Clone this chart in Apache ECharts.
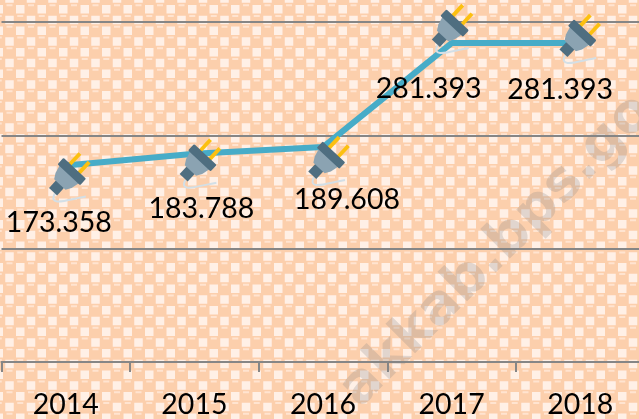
<!DOCTYPE html>
<html>
<head>
<meta charset="utf-8">
<style>html,body{margin:0;padding:0}#chart{width:639px;height:419px}</style>
<script src="https://cdn.jsdelivr.net/npm/echarts@6/dist/echarts.min.js"></script>
</head>
<body>
<div id="chart"></div>
<script>
const years = ['2014', '2015', '2016', '2017', '2018'];
const values = [173.358, 183.788, 189.608, 281.393, 281.393];
const valueLabels = ['173.358', '183.788', '189.608', '281.393', '281.393'];

// label and plug icon are placed by hand per point in the original
const labelOffsets = [[-7, 57], [7, 55], [24, 53], [-23, 46], [-20, 47]];
const plugOffsets = [[6, 6], [8, 4], [8, 8], [3, -20], [2, -10]];

// background tile: balls and light squares in a checker
function makeTile() {
  const c = document.createElement('canvas');
  c.width = 43;
  c.height = 43;
  const g = c.getContext('2d');
  g.fillStyle = '#fdd8be';
  g.fillRect(0, 0, 43, 43);
  const cell = 10.75;
  for (let i = -2; i < 6; i++) {
    for (let j = -2; j < 6; j++) {
      if ((i + j) % 2 !== 0) continue;
      const x = 9.5 + i * cell, y = 9.25 + j * cell;
      g.fillStyle = '#fccfac';
      g.beginPath();
      g.arc(x, y, 8.5, 0, Math.PI * 2);
      g.fill();
      g.fillStyle = '#ffe4d0';
      g.fillRect(x - 3, y - 5, 6, 2);
    }
  }
  for (let i = -2; i < 6; i++) {
    for (let j = -2; j < 6; j++) {
      if ((i + j) % 2 === 0) continue;
      const x = 9.5 + i * cell, y = 9.25 + j * cell;
      g.fillStyle = '#fff0e6';
      g.fillRect(x - 4.25, y - 4.25, 8.5, 8.5);
    }
  }
  return c;
}

function plugItem(params, api) {
  const pt = api.coord([api.value(0), api.value(1)]);
  const off = plugOffsets[params.dataIndex];
  const dark = '#4f6e80';
  const yellow = '#fcc010';
  return {
    type: 'group',
    x: pt[0] + off[0],
    y: pt[1] + off[1],
    children: [
      {
        type: 'bezierCurve',
        shape: { x1: -17, y1: 22, cpx1: -24, cpy1: 36, cpx2: -4, cpy2: 28, x2: 14, y2: 25 },
        style: { fill: 'none', stroke: '#d3dfe6', lineWidth: 2 }
      },
      {
        type: 'group',
        rotation: -0.75,
        scaleX: 1.1,
        scaleY: 1.1,
        children: [
          { type: 'rect', shape: { x: -7.5, y: -17, width: 3.5, height: 14 }, style: { fill: yellow } },
          { type: 'rect', shape: { x: 4, y: -17, width: 3.5, height: 14 }, style: { fill: yellow } },
          { type: 'rect', shape: { x: -5, y: 15, width: 10, height: 10 }, style: { fill: dark } },
          {
            type: 'polygon',
            shape: { points: [[-12, 3], [12, 3], [10, 11], [7, 16], [-7, 16], [-10, 11]] },
            style: { fill: '#8ba3b2' }
          },
          { type: 'rect', shape: { x: -14, y: -4, width: 28, height: 8, r: 1 }, style: { fill: dark } }
        ]
      }
    ]
  };
}

const chart = echarts.init(document.getElementById('chart'));
chart.setOption({
  animation: false,
  backgroundColor: { image: makeTile(), repeat: 'repeat' },
  textStyle: { fontFamily: 'Lato' },
  grid: { left: 1.5, top: 22, width: 643, height: 340, outerBoundsMode: 'none' },
  xAxis: {
    type: 'category',
    data: years,
    boundaryGap: true,
    axisLine: { lineStyle: { color: '#868686', width: 2 } },
    axisTick: { show: true, length: 10, lineStyle: { color: '#868686', width: 2 } },
    axisLabel: { color: '#000', fontSize: 28.5, fontFamily: 'Lato', margin: 28 }
  },
  yAxis: {
    type: 'value',
    min: 0,
    max: 300,
    interval: 100,
    axisLine: { show: false },
    axisTick: { show: false },
    axisLabel: { show: false },
    splitLine: { lineStyle: { color: '#868686', width: 2 } }
  },
  graphic: [{
    type: 'text',
    z: 100,
    x: 369,
    y: 418,
    rotation: Math.PI / 4,
    style: {
      text: 'akkab.bps.go.id',
      font: 'bold 55px "DejaVu Sans"',
      fill: 'rgba(130,130,130,0.24)',
      textVerticalAlign: 'bottom'
    }
  }],
  series: [
    {
      type: 'line',
      data: values,
      z: 3,
      symbol: 'circle',
      symbolSize: 1,
      lineStyle: { color: '#47acc8', width: 6, cap: 'round' },
      itemStyle: { color: '#47acc8' },
      label: {
        show: true,
        position: 'inside',
        color: '#000',
        fontSize: 28.5,
        fontFamily: 'Lato',
        formatter: p => valueLabels[p.dataIndex]
      },
      labelLayout: p => ({ dx: labelOffsets[p.dataIndex][0], dy: labelOffsets[p.dataIndex][1] })
    },
    {
      type: 'custom',
      data: values.map((v, i) => [i, v]),
      z: 4,
      clip: false,
      silent: true,
      renderItem: plugItem
    }
  ]
});
</script>
</body>
</html>
